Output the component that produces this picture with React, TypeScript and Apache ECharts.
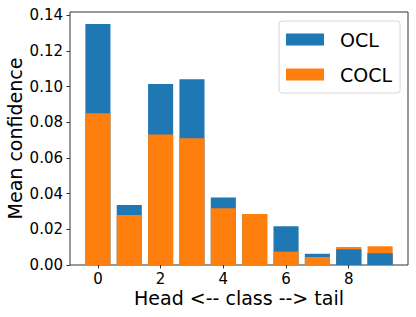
import React, { useEffect, useRef } from "react";
import * as echarts from "echarts";

const classes = ["0", "1", "2", "3", "4", "5", "6", "7", "8", "9"];
const oclValues = [0.1351, 0.0336, 0.1014, 0.1041, 0.0379, 0.0286, 0.0217, 0.0063, 0.0088, 0.0066];
const coclValues = [0.085, 0.028, 0.0732, 0.071, 0.0318, 0.0286, 0.0075, 0.0045, 0.0101, 0.0105];
const xTicks = [0, 2, 4, 6, 8];
const yTicks = [0, 0.02, 0.04, 0.06, 0.08, 0.1, 0.12, 0.14];

const BLUE = "#1f77b4";
const ORANGE = "#ff7f0e";
const FONT = "DejaVu Sans";

// matplotlib-like x limits (bar extent +-0.4 with 5% margins)
const X_MIN = -0.89;
const X_MAX = 9.89;
const Y_MAX = 0.1418;

export default function App() {
  const ref = useRef<HTMLDivElement>(null);
  useEffect(() => {
    if (!ref.current) return;
    const chart = echarts.init(ref.current, undefined, { renderer: "svg" });
    const W = 416;
    const gl = 70;
    const gr = 8;
    const plotW = W - gl - gr;
    const pxPerUnit = plotW / (X_MAX - X_MIN);
    const innerLeft = gl + (-0.5 - X_MIN) * pxPerUnit;
    const innerRight = W - (gl + (classes.length - 0.5 - X_MIN) * pxPerUnit);
    const oclFront = oclValues.map((v, i) => (v < coclValues[i] ? v : "-"));
    chart.setOption({
      animation: false,
      textStyle: { fontFamily: FONT },
      grid: [
        {
          left: gl,
          top: 12,
          right: gr,
          bottom: 52,
          show: true,
          borderColor: "#333",
          borderWidth: 1,
          backgroundColor: "transparent",
          outerBoundsMode: "none",
          containLabel: false,
        },
        {
          left: innerLeft,
          top: 12,
          right: innerRight,
          bottom: 52,
          show: false,
          outerBoundsMode: "none",
          containLabel: false,
        },
      ],
      legend: {
        data: ["OCL", "COCL"],
        orient: "vertical",
        left: 279,
        top: 21,
        icon: "rect",
        itemWidth: 38,
        itemHeight: 12,
        itemGap: 16,
        padding: [9, 8, 9, 7],
        borderColor: "#d8d8d8",
        borderWidth: 1,
        borderRadius: 3,
        backgroundColor: "rgba(255,255,255,0.8)",
        textStyle: {
          fontFamily: FONT,
          fontSize: 19,
          color: "#000",
          lineHeight: 12,
          padding: [0, 0, 0, 11],
        },
      },
      xAxis: [
        {
          type: "value",
          gridIndex: 0,
          min: X_MIN,
          max: X_MAX,
          splitLine: { show: false },
          axisLine: { show: false, onZero: false },
          axisTick: {
            show: true,
            length: 3.5,
            customValues: xTicks,
            lineStyle: { color: "#333" },
          },
          axisLabel: {
            customValues: xTicks,
            fontFamily: FONT,
            fontSize: 15,
            lineHeight: 15,
            color: "#000",
            margin: 6,
            formatter: (v: number) => String(v),
          },
          name: "Head <-- class --> tail",
          nameLocation: "middle",
          nameGap: 23,
          nameMoveOverlap: false,
          nameTextStyle: { fontFamily: FONT, fontSize: 19, lineHeight: 19, color: "#000" },
        },
        {
          type: "category",
          gridIndex: 1,
          data: classes,
          boundaryGap: true,
          show: false,
        },
      ],
      yAxis: [
        {
          type: "value",
          gridIndex: 0,
          min: 0,
          max: Y_MAX,
          splitLine: { show: false },
          axisLine: { show: false, onZero: false },
          axisTick: {
            show: true,
            length: 3.5,
            customValues: yTicks,
            lineStyle: { color: "#333" },
          },
          axisLabel: {
            customValues: yTicks,
            fontFamily: FONT,
            fontSize: 15,
            color: "#000",
            margin: 7,
            formatter: (v: number) => v.toFixed(2),
          },
          name: "Mean confidence",
          nameLocation: "middle",
          nameGap: 46,
          nameMoveOverlap: false,
          nameRotate: 90,
          nameTextStyle: { fontFamily: FONT, fontSize: 19, color: "#000" },
        },
        {
          type: "value",
          gridIndex: 1,
          min: 0,
          max: Y_MAX,
          show: false,
          splitLine: { show: false },
        },
      ],
      series: [
        {
          name: "OCL",
          type: "bar",
          xAxisIndex: 1,
          yAxisIndex: 1,
          data: oclValues,
          barWidth: "80%",
          barGap: "-100%",
          itemStyle: { color: BLUE },
          z: 2,
        },
        {
          name: "COCL",
          type: "bar",
          xAxisIndex: 1,
          yAxisIndex: 1,
          data: coclValues,
          barWidth: "80%",
          barGap: "-100%",
          itemStyle: { color: ORANGE },
          z: 3,
        },
        {
          name: "OCL",
          type: "bar",
          xAxisIndex: 1,
          yAxisIndex: 1,
          data: oclFront,
          barWidth: "80%",
          barGap: "-100%",
          itemStyle: { color: BLUE },
          z: 4,
        },
      ],
    });
    return () => chart.dispose();
  }, []);
  return <div ref={ref} style={{ width: 416, height: 317, position: "absolute", left: 0, top: 0 }} />;
}
